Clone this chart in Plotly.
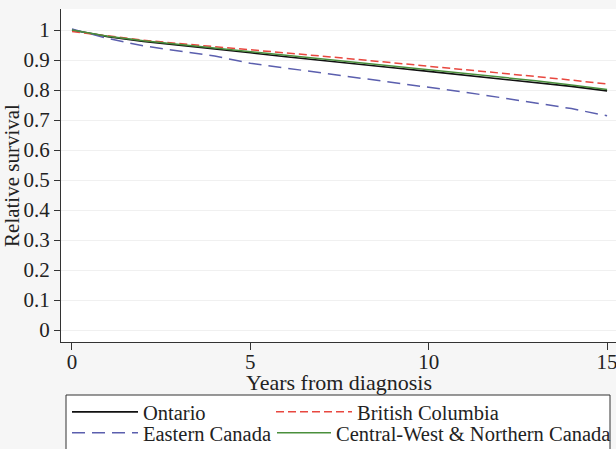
import plotly.graph_objects as go

years = [0, 1, 2, 3, 4, 5, 6, 7, 8, 9, 10, 11, 12, 13, 14, 15]
ontario = [1.0, 0.978, 0.962, 0.950, 0.937, 0.924, 0.911, 0.898, 0.886, 0.874, 0.862, 0.850, 0.838, 0.826, 0.812, 0.797]
british_columbia = [0.995, 0.980, 0.966, 0.955, 0.945, 0.935, 0.924, 0.913, 0.902, 0.891, 0.880, 0.868, 0.857, 0.845, 0.833, 0.820]
eastern = [1.003, 0.972, 0.947, 0.930, 0.913, 0.889, 0.873, 0.858, 0.842, 0.826, 0.808, 0.793, 0.775, 0.757, 0.738, 0.714]
central_west = [1.0, 0.979, 0.964, 0.952, 0.940, 0.927, 0.915, 0.903, 0.891, 0.879, 0.867, 0.855, 0.843, 0.831, 0.817, 0.802]

y_ticks = [0, 0.1, 0.2, 0.3, 0.4, 0.5, 0.6, 0.7, 0.8, 0.9, 1]
y_tick_labels = ["0", "0.1", "0.2", "0.3", "0.4", "0.5", "0.6", "0.7", "0.8", "0.9", "1"]
x_ticks = [0, 5, 10, 15]
x_title = "Years from diagnosis"
y_title = "Relative survival"

FONT = "Liberation Serif, Times New Roman, serif"
TXT = "#222222"

W, H = 616, 449
ml, mr, mt, mb = 61, 0, 9, 107
pw, ph = W - ml - mr, H - mt - mb

def px_x(x):
    return (x - ml) / pw

def px_y(y):
    return 1 - (y - mt) / ph

fig = go.Figure()
fig.add_trace(go.Scatter(x=years, y=ontario, mode="lines", name="Ontario",
                         line=dict(color="#111111", width=1.6), legend="legend"))
fig.add_trace(go.Scatter(x=years, y=british_columbia, mode="lines", name="British Columbia",
                         line=dict(color="#e8473f", width=1.5, dash="8px,4px"), legend="legend2"))
fig.add_trace(go.Scatter(x=years, y=eastern, mode="lines", name="Eastern Canada",
                         line=dict(color="#5b5fae", width=1.5, dash="13px,7px"), legend="legend3"))
fig.add_trace(go.Scatter(x=years, y=central_west, mode="lines", name="Central-West & Northern Canada",
                         line=dict(color="#4a8f3c", width=1.5), legend="legend4"))

def leg(xpx, ypx, iw):
    return dict(orientation="v", bgcolor="rgba(0,0,0,0)", borderwidth=0,
                font=dict(family=FONT, size=20.5, color=TXT),
                itemwidth=iw, xanchor="left", yanchor="middle",
                x=px_x(xpx), y=px_y(ypx),
                itemclick=False, itemdoubleclick=False)

fig.update_layout(
    width=W, height=H,
    margin=dict(l=ml, r=mr, t=mt, b=mb, autoexpand=False),
    paper_bgcolor="#f6f6f6",
    plot_bgcolor="#ffffff",
    font=dict(family=FONT, size=21, color=TXT),
    legend=leg(67, 412, 66),
    legend2=leg(271, 412, 76),
    legend3=leg(67, 433, 66),
    legend4=leg(272, 433, 54),
    xaxis=dict(range=[-0.308, 15.25], tickvals=x_ticks, ticks="outside", ticklen=7,
               tickcolor="#333333", showline=True, linecolor="#333333", linewidth=1.2,
               showgrid=False, zeroline=False, ticklabelstandoff=-6,
               ticklabeloverflow="allow",
               tickfont=dict(family=FONT, size=21, color=TXT)),
    yaxis=dict(range=[-0.04, 1.07], tickvals=y_ticks, ticktext=y_tick_labels,
               ticks="outside", ticklen=6, tickcolor="#333333",
               showline=True, linecolor="#333333", linewidth=1.2,
               showgrid=True, gridcolor="#f0f0f0", gridwidth=1, zeroline=False,
               tickfont=dict(family=FONT, size=21, color=TXT),
               title=dict(text=y_title, standoff=0,
                          font=dict(family=FONT, size=21, color=TXT))),
    annotations=[dict(text=x_title, xref="paper", yref="paper",
                      x=px_x(339), y=px_y(382), xanchor="center", yanchor="middle",
                      showarrow=False, font=dict(family=FONT, size=22, color=TXT))],
    shapes=[dict(type="rect", xref="paper", yref="paper",
                 x0=px_x(66), x1=px_x(610), y0=px_y(395), y1=px_y(452),
                 line=dict(color="#333333", width=1), fillcolor="#ffffff", layer="below")],
    showlegend=True,
)

fig.write_html("out.html")
